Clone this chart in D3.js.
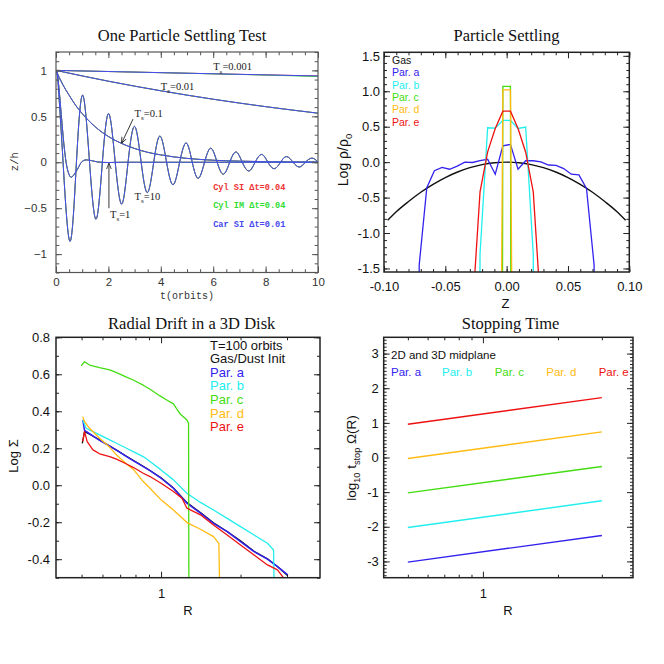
<!DOCTYPE html>
<html><head><meta charset="utf-8">
<script src="https://cdn.jsdelivr.net/npm/d3@7"></script>
<style>body{margin:0;background:#fff}svg{display:block}</style>
</head><body><div id="chart"></div>
<script>
// ================= DATA =================
// Panel 1: One Particle Settling Test  [t (orbits), z/h]
const p1XTicks = [0,2,4,6,8,10];
const p1YTicks = [-1,-0.5,0,0.5,1];
const p1Ts0001 = [[0,1],[5,0.969],[10,0.939]];
const p1Ts0001IM = [[0,1],[5,0.969],[8,0.949],[10,0.933]];
const p1Ts001 = [[0,1],[2,0.882],[4,0.778],[6,0.686],[8,0.605],[10,0.534]];
const p1Ts01 = [[0,1],[0.25,0.85],[0.5,0.73],[0.75,0.62],[1,0.53],[1.5,0.385],[2,0.28],[2.5,0.205],[3,0.15],[3.5,0.108],[4,0.08],[4.5,0.058],[5,0.042],[6,0.022],[7,0.012],[8,0.006],[9,0.003],[10,0.002]];
const p1Ts1 = [[0,1],[0.05,0.96],[0.1,0.845],[0.2,0.52],[0.3,0.2],[0.385,0],[0.48,-0.12],[0.58,-0.163],[0.7,-0.13],[0.85,-0.06],[0.97,0],[1.15,0.026],[1.35,0.018],[1.6,0.003],[2.0,-0.003],[2.5,0],[10,0]];
const p1Ts10 = [[0,1],[0.06,0.93],[0.14,0.6],[0.27,0],[0.53,-0.86],[0.78,0],[1.02,0.73],[1.28,0],[1.53,-0.62],[1.77,0],[2.01,0.53],[2.26,0],[2.51,-0.455],[2.75,0],[3.0,0.39],[3.25,0],[3.49,-0.33],[3.73,0],[3.97,0.285],[4.22,0],[4.47,-0.245],[4.72,0],[4.97,0.21],[5.2,0],[5.43,-0.175],[5.67,0],[5.91,0.153],[6.15,0],[6.39,-0.13],[6.63,0],[6.87,0.112],[7.11,0],[7.36,-0.095],[7.6,0],[7.85,0.085],[8.09,0],[8.33,-0.07],[8.57,0],[8.8,0.062],[9.05,0],[9.29,-0.052],[9.52,0],[9.77,0.045],[10,0.003]];
const p1Legend = ["Cyl SI \u0394t=0.04","Cyl IM \u0394t=0.04","Car SI \u0394t=0.01"];

// Panel 2: Particle Settling  [Z, log rho/rho0]
const p2XTicks = [-0.1,-0.05,0,0.05,0.1];
const p2YTicks = [-1.5,-1,-0.5,0,0.5,1,1.5];
const p2Gas = [[-0.097,-0.82],[-0.09,-0.70],[-0.08,-0.556],[-0.07,-0.425],[-0.06,-0.313],[-0.05,-0.217],[-0.04,-0.139],[-0.03,-0.078],[-0.02,-0.035],[-0.01,-0.009],[0,0],[0.01,-0.009],[0.02,-0.035],[0.03,-0.078],[0.04,-0.139],[0.05,-0.217],[0.06,-0.313],[0.07,-0.425],[0.08,-0.556],[0.09,-0.70],[0.097,-0.82]];
const p2A = [[-0.0775,-30],[-0.0713,-1.45],[-0.0651,-0.36],[-0.0589,-0.12],[-0.0527,-0.075],[-0.0465,-0.10],[-0.0403,-0.055],[-0.0341,0.0],[-0.0279,-0.005],[-0.0217,0.02],[-0.0155,0.04],[-0.0093,-0.17],[-0.0031,0.23],[0.0031,0.25],[0.0093,-0.10],[0.0155,0.02],[0.0217,0.02],[0.0279,0.005],[0.0341,-0.04],[0.0403,-0.045],[0.0465,-0.09],[0.0527,-0.17],[0.0589,-0.18],[0.0651,-0.37],[0.0713,-1.45],[0.0775,-30]];
const p2B = [[-0.0279,-30],[-0.0217,-1.3],[-0.0155,0.485],[-0.0093,0.48],[-0.0031,0.59],[0.0031,0.59],[0.0093,0.475],[0.0155,0.495],[0.0217,-1.3],[0.0279,-30]];
const p2C = [[-0.0093,-60],[-0.0031,1.07],[0.0031,1.07],[0.0093,-60]];
const p2D = [[-0.0093,-15],[-0.0031,1.02],[0.0031,1.02],[0.0093,-15]];
const p2E = [[-0.0341,-30],[-0.0279,-2.1],[-0.0217,-0.42],[-0.0155,0.145],[-0.0093,0.475],[-0.0031,0.72],[0.0031,0.72],[0.0093,0.475],[0.0155,0.14],[0.0217,-0.42],[0.0279,-2.1],[0.0341,-30]];
const p2Legend = ["Gas","Par. a","Par. b","Par. c","Par. d","Par. e"];

// Panel 3: Radial Drift in a 3D Disk  [R, log Sigma]
const p3YTicks = [-0.4,-0.2,0,0.2,0.4,0.6,0.8];
const p3Gas = [[0.503,0.227],[0.513,0.29],[0.536,0.276],[0.585,0.245],[0.639,0.212],[0.678,0.19],[0.74,0.157],[0.784,0.135],[0.856,0.103],[0.908,0.08],[1.0,0.04],[1.114,-0.015],[1.253,-0.094],[1.41,-0.148],[1.58,-0.203],[1.78,-0.25],[2.0,-0.3],[2.25,-0.357],[2.53,-0.398],[2.76,-0.44],[3.02,-0.49]];
const p3A = [[0.505,0.353],[0.513,0.297],[0.536,0.279],[0.585,0.243],[0.639,0.211],[0.678,0.19],[0.74,0.155],[0.784,0.133],[0.856,0.101],[0.908,0.079],[1.0,0.038],[1.114,-0.016],[1.253,-0.097],[1.41,-0.151],[1.58,-0.206],[1.78,-0.251],[2.0,-0.305],[2.25,-0.359],[2.53,-0.4],[2.76,-0.44],[3.02,-0.485]];
const p3B = [[0.505,0.353],[0.52,0.308],[0.552,0.29],[0.585,0.272],[0.639,0.245],[0.678,0.227],[0.74,0.2],[0.784,0.182],[0.856,0.155],[0.908,0.128],[1.0,0.083],[1.114,0.029],[1.253,-0.043],[1.41,-0.093],[1.58,-0.134],[1.78,-0.179],[2.0,-0.224],[2.25,-0.269],[2.53,-0.314],[2.668,-0.35],[2.684,-0.6]];
const p3C = [[0.498,0.645],[0.513,0.668],[0.536,0.65],[0.585,0.636],[0.639,0.624],[0.678,0.609],[0.74,0.585],[0.784,0.569],[0.856,0.541],[0.908,0.519],[0.991,0.483],[1.051,0.461],[1.114,0.44],[1.182,0.385],[1.253,0.353],[1.271,0.335],[1.275,-0.6]];
const p3D = [[0.505,0.371],[0.513,0.344],[0.536,0.308],[0.585,0.254],[0.639,0.205],[0.678,0.164],[0.74,0.115],[0.784,0.087],[0.856,0.02],[0.908,-0.016],[1.0,-0.079],[1.114,-0.134],[1.253,-0.202],[1.41,-0.238],[1.58,-0.278],[1.655,-0.314],[1.67,-0.6]];
const p3E = [[0.505,0.236],[0.513,0.29],[0.525,0.236],[0.552,0.191],[0.585,0.17],[0.639,0.155],[0.678,0.141],[0.74,0.115],[0.784,0.097],[0.856,0.065],[0.908,0.047],[1.0,0.011],[1.114,-0.034],[1.2,-0.07],[1.253,-0.124],[1.41,-0.16],[1.58,-0.215],[1.78,-0.269],[2.0,-0.323],[2.25,-0.377],[2.53,-0.431],[2.76,-0.458],[2.887,-0.494],[2.95,-0.52]];
const p3Legend = ["T=100 orbits","Gas/Dust Init","Par. a","Par. b","Par. c","Par. d","Par. e"];

// Panel 4: Stopping Time  [R, log10 tstop Omega]
const p4YTicks = [-3,-2,-1,0,1,2,3];
const p4R = [0.5, 3];
const p4A = [-3.02,-2.25];
const p4B = [-2.02,-1.25];
const p4C = [-1.02,-0.26];
const p4D = [-0.03,0.74];
const p4E = [0.96,1.73];
const p4Legend = ["Par. a","Par. b","Par. c","Par. d","Par. e"];

const logMajor = [1];
const logMinor = [0.5,0.6,0.7,0.8,0.9,2,3];

// ================= STYLE =================
const COL = {blue:"#3322ee", cyan:"#22eeee", green:"#44dd11", orange:"#ffbb11", red:"#ee1111", black:"#111"};
const P1COL = {red:"#ee3333", green:"#33dd33", blue:"#4848f0"};
const SANS = "Liberation Sans, Arial, sans-serif";
const SERIF = "Liberation Serif, Times New Roman, serif";
const MONO = "Liberation Mono, Courier New, monospace";

const svg = d3.select("#chart").append("svg").attr("width",664).attr("height",664);
const defs = svg.append("defs");

function addClip(id, x, y){
  const [x0,x1]=x.range(), [yb,yt]=y.range();
  defs.append("clipPath").attr("id",id).append("rect")
    .attr("x",x0).attr("y",yt).attr("width",x1-x0).attr("height",yb-yt);
}

function styleAxis(g, font, size, color, tickColor, sw){
  g.select(".domain").remove();
  g.attr("font-family", font).attr("font-size", size);
  g.selectAll(".tick line").attr("stroke", tickColor).attr("stroke-width", sw);
  g.selectAll(".tick text").attr("fill", color);
}

function axes(g, x, y, o){
  const [x0,x1]=x.range(), [yb,yt]=y.range();
  const mk = (axisFn, scale, vals, len, fmt, pad, tr) => {
    const a = axisFn(scale).tickValues(vals).tickSize(-len).tickSizeOuter(0).tickPadding(pad||3).tickFormat(fmt||"");
    const gg = g.append("g").attr("transform", tr).call(a);
    styleAxis(gg, o.font, o.size, o.color, o.tickColor, o.tickW);
    return gg;
  };
  const bt = `translate(0,${yb})`, tt = `translate(0,${yt})`, lt = `translate(${x0},0)`, rt = `translate(${x1},0)`;
  mk(d3.axisBottom, x, o.xMinor, o.minLen, "", 3, bt);
  mk(d3.axisBottom, x, o.xMajor, o.majLen, o.xFmt, o.xPad, bt);
  mk(d3.axisTop, x, o.xMinor, o.minLen, "", 3, tt);
  mk(d3.axisTop, x, o.xMajor, o.majLen, "", 3, tt);
  mk(d3.axisLeft, y, o.yMinor, o.minLen, "", 3, lt);
  mk(d3.axisLeft, y, o.yMajor, o.majLen, o.yFmt, o.yPad, lt);
  mk(d3.axisRight, y, o.yMinor, o.minLen, "", 3, rt);
  mk(d3.axisRight, y, o.yMajor, o.majLen, "", 3, rt);
  g.append("rect").attr("x",x0).attr("y",yt).attr("width",x1-x0).attr("height",yb-yt)
    .attr("fill","none").attr("stroke",o.frameColor).attr("stroke-width",o.frameW);
}

function rich(sel, parts, size){
  let prevSub = false;
  parts.forEach(([t,sub])=>{
    const ts = sel.append("tspan").text(t);
    if (sub && !prevSub){ ts.attr("dy", size*0.3).attr("font-size", size*0.68); }
    else if (!sub && prevSub){ ts.attr("dy", -size*0.3); }
    else if (sub){ ts.attr("font-size", size*0.68); }
    prevSub = sub;
  });
}

const range = (a,b,s) => d3.range(Math.round(a/s), Math.round(b/s)+1).map(i=>+(i*s).toFixed(6));
const hy = s => s.replace("\u2212","-");

// ================= PANEL 1 =================
{
  const x = d3.scaleLinear().domain([0,10]).range([56,318]);
  const y = d3.scaleLinear().domain([-1.2,1.2]).range([272.5,52]);
  addClip("c1", x, y);
  const g = svg.append("g");
  const lineM = d3.line().x(d=>x(d[0])).y(d=>y(d[1])).curve(d3.curveMonotoneX);
  const lineN = d3.line().x(d=>x(d[0])).y(d=>y(d[1])).curve(d3.curveNatural);
  const pl = g.append("g").attr("clip-path","url(#c1)");
  const curves = [[p1Ts001,lineM],[p1Ts01,lineM],[p1Ts1,lineM],[p1Ts10,lineN]];
  [["red",p1Ts0001],["green",p1Ts0001IM],["blue",p1Ts0001]].forEach(([c,d])=>{
    pl.append("path").attr("d",lineM(d)).attr("fill","none").attr("stroke",P1COL[c]).attr("stroke-width",1.0);
  });
  ["red","green","blue"].forEach(c=>{
    curves.forEach(([d,ln])=>{
      pl.append("path").attr("d",ln(d)).attr("fill","none").attr("stroke",P1COL[c]).attr("stroke-width",1.0);
    });
  });
  const fmt1 = d => d===0 ? "0" : (d<0?"\u2212":"") + String(Math.abs(d));
  axes(g, x, y, {xMajor:p1XTicks, xMinor:range(0,10,0.5), yMajor:p1YTicks, yMinor:range(-1.2,1.2,0.1),
    xFmt:d=>String(d), yFmt:fmt1, majLen:6, minLen:3.3, xPad:5.3, yPad:9,
    font:SANS, size:11.5, color:"#333", tickColor:"#555", tickW:1, frameColor:"#555", frameW:1.2});
  const ann = (t,z,val) => {
    const tx = g.append("text").attr("x",x(t)).attr("y",y(z)).attr("font-family",SERIF).attr("font-size",10.5).attr("fill","#222");
    rich(tx, [["T",false],["s",true],["="+val,false]], 10.5);
  };
  ann(6.0,1.0,"0.001"); ann(4.0,0.79,"0.01"); ann(3.0,0.49,"0.1"); ann(3.0,-0.41,"10"); ann(2.06,-0.61,"1");
  defs.append("marker").attr("id","arr").attr("viewBox","0 0 10 10").attr("refX",10).attr("refY",5)
    .attr("markerWidth",7).attr("markerHeight",7).attr("orient","auto-start-reverse")
    .append("path").attr("d","M0,1 L10,5 L0,9").attr("fill","none").attr("stroke","#222").attr("stroke-width",1.3);
  g.append("line").attr("x1",x(2.94)).attr("y1",y(0.47)).attr("x2",x(2.5)).attr("y2",y(0.205))
    .attr("stroke","#222").attr("stroke-width",0.9).attr("marker-end","url(#arr)");
  g.append("line").attr("x1",x(2.02)).attr("y1",y(-0.5)).attr("x2",x(2.02)).attr("y2",y(-0.01))
    .attr("stroke","#222").attr("stroke-width",0.9).attr("marker-end","url(#arr)");
  const lc = [P1COL.red,P1COL.green,P1COL.blue], lz = [-0.3,-0.5,-0.7];
  p1Legend.forEach((s,i)=>{
    g.append("text").attr("x",x(6.0)).attr("y",y(lz[i])).attr("font-family",MONO).attr("font-size",8.6)
      .attr("font-weight","bold").attr("fill",lc[i]).text(s);
  });
  g.append("text").attr("x",182).attr("y",41).attr("text-anchor","middle").attr("font-family",SERIF).attr("font-size",16.5).attr("fill","#111").text("One Particle Settling Test");
  g.append("text").attr("x",187).attr("y",299).attr("text-anchor","middle").attr("font-family",MONO).attr("font-size",10).attr("fill","#333").text("t(orbits)");
  g.append("text").attr("transform","translate(17.5,161.7) rotate(-90)").attr("text-anchor","middle").attr("font-family",MONO).attr("font-size",10.5).attr("fill","#333").text("z/h");
}

// ================= PANEL 2 =================
{
  const x = d3.scaleLinear().domain([-0.1,0.1]).range([384,629.3]);
  const y = d3.scaleLinear().domain([-1.55,1.55]).range([272,52.3]);
  addClip("c2", x, y);
  const g = svg.append("g");
  const pl = g.append("g").attr("clip-path","url(#c2)");
  const lineM = d3.line().x(d=>x(d[0])).y(d=>y(d[1])).curve(d3.curveMonotoneX);
  const line = d3.line().x(d=>x(d[0])).y(d=>y(d[1]));
  pl.append("path").attr("d",lineM(p2Gas)).attr("fill","none").attr("stroke",COL.black).attr("stroke-width",1.4);
  [[p2A,COL.blue],[p2B,COL.cyan],[p2C,COL.green],[p2D,COL.orange],[p2E,COL.red]].forEach(([d,c])=>{
    pl.append("path").attr("d",line(d)).attr("fill","none").attr("stroke",c).attr("stroke-width",1.3);
  });
  axes(g, x, y, {xMajor:p2XTicks, xMinor:range(-0.1,0.1,0.01), yMajor:p2YTicks, yMinor:range(-1.5,1.5,0.1),
    xFmt:d=>hy(d3.format(".2f")(d)), yFmt:d=>hy(d3.format(".1f")(d)), majLen:6, minLen:3, xPad:10, yPad:4,
    font:SANS, size:13, color:"#111", tickColor:"#222", tickW:1, frameColor:"#222", frameW:1.5});
  const lc = [COL.black,COL.blue,COL.cyan,COL.green,COL.orange,COL.red];
  p2Legend.forEach((s,i)=>{
    g.append("text").attr("x",392).attr("y",64+i*12.3).attr("font-family",SANS).attr("font-size",10.5).attr("fill",lc[i]).text(s);
  });
  g.append("text").attr("x",506.5).attr("y",41).attr("text-anchor","middle").attr("font-family",SERIF).attr("font-size",16.5).attr("fill","#111").text("Particle Settling");
  g.append("text").attr("x",505.5).attr("y",308).attr("text-anchor","middle").attr("font-family",SANS).attr("font-size",13).attr("fill","#111").text("Z");
  const yl = g.append("text").attr("transform","translate(348,160) rotate(-90)").attr("text-anchor","middle").attr("font-family",SANS).attr("font-size",14).attr("fill","#111");
  rich(yl, [["Log \u03c1/\u03c1",false],["0",true]], 14);
}

// ================= PANEL 3 =================
{
  const x = d3.scaleLog().domain([0.4,4]).range([56,320]);
  const y = d3.scaleLinear().domain([-0.5,0.8]).range([577.7,337.3]);
  addClip("c3", x, y);
  const g = svg.append("g");
  const pl = g.append("g").attr("clip-path","url(#c3)");
  const line = d3.line().x(d=>x(d[0])).y(d=>y(d[1]));
  [[p3Gas,COL.black,1.3],[p3A,COL.blue,1.5],[p3B,COL.cyan,1.3],[p3C,COL.green,1.3],[p3D,COL.orange,1.3],[p3E,COL.red,1.3]].forEach(([d,c,w])=>{
    pl.append("path").attr("d",line(d)).attr("fill","none").attr("stroke",c).attr("stroke-width",w).attr("stroke-linejoin","round");
  });
  axes(g, x, y, {xMajor:logMajor, xMinor:logMinor, yMajor:p3YTicks, yMinor:range(-0.5,0.8,0.1),
    xFmt:d=>String(d), yFmt:d=>hy(d3.format(".1f")(d)), majLen:6, minLen:3, xPad:10.6, yPad:6,
    font:SANS, size:13, color:"#111", tickColor:"#222", tickW:1, frameColor:"#222", frameW:1.5});
  const lc = [COL.black,COL.black,COL.blue,COL.cyan,COL.green,COL.orange,COL.red];
  p3Legend.forEach((s,i)=>{
    g.append("text").attr("x",210).attr("y",349.5+i*13.6).attr("font-family",SANS).attr("font-size",13).attr("fill",lc[i]).text(s);
  });
  g.append("text").attr("x",191.7).attr("y",328.5).attr("text-anchor","middle").attr("font-family",SERIF).attr("font-size",16.5).attr("fill","#111").text("Radial Drift in a 3D Disk");
  g.append("text").attr("x",188).attr("y",615).attr("text-anchor","middle").attr("font-family",SANS).attr("font-size",13).attr("fill","#111").text("R");
  g.append("text").attr("transform","translate(17.5,456) rotate(-90)").attr("text-anchor","middle").attr("font-family",SANS).attr("font-size",13).attr("fill","#111").text("Log \u03a3");
}

// ================= PANEL 4 =================
{
  const x = d3.scaleLog().domain([0.4,4]).range([383.7,633]);
  const y = d3.scaleLinear().domain([-3.47,3.47]).range([577.7,337.3]);
  addClip("c4", x, y);
  const g = svg.append("g");
  const pl = g.append("g").attr("clip-path","url(#c4)");
  const line = d3.line().x(d=>x(d[0])).y(d=>y(d[1]));
  [[p4A,COL.blue],[p4B,COL.cyan],[p4C,COL.green],[p4D,COL.orange],[p4E,COL.red]].forEach(([v,c])=>{
    pl.append("path").attr("d",line(p4R.map((r,i)=>[r,v[i]]))).attr("fill","none").attr("stroke",c).attr("stroke-width",1.4);
  });
  axes(g, x, y, {xMajor:logMajor, xMinor:logMinor, yMajor:p4YTicks, yMinor:range(-3.4,3.4,0.1),
    xFmt:d=>String(d), yFmt:d=>hy(d3.format("d")(d)), majLen:6, minLen:3, xPad:10.6, yPad:5,
    font:SANS, size:13, color:"#111", tickColor:"#222", tickW:1, frameColor:"#222", frameW:1.5});
  g.append("text").attr("x",391).attr("y",359).attr("font-family",SANS).attr("font-size",11.5).attr("fill","#111").text("2D and 3D midplane");
  const lc = [COL.blue,COL.cyan,COL.green,COL.orange,COL.red], lx=[391,442,494.7,546.3,598.7];
  p4Legend.forEach((s,i)=>{
    g.append("text").attr("x",lx[i]).attr("y",376).attr("font-family",SANS).attr("font-size",11.5).attr("fill",lc[i]).text(s);
  });
  g.append("text").attr("x",510.6).attr("y",328.5).attr("text-anchor","middle").attr("font-family",SERIF).attr("font-size",16.5).attr("fill","#111").text("Stopping Time");
  g.append("text").attr("x",508).attr("y",615).attr("text-anchor","middle").attr("font-family",SANS).attr("font-size",13).attr("fill","#111").text("R");
  const yl = g.append("text").attr("transform","translate(356,458) rotate(-90)").attr("text-anchor","middle").attr("font-family",SANS).attr("font-size",13.5).attr("fill","#111");
  rich(yl, [["log",false],["10",true],["  t",false],["stop",true],["  \u03a9(R)",false]], 13.5);
}
</script></body></html>
